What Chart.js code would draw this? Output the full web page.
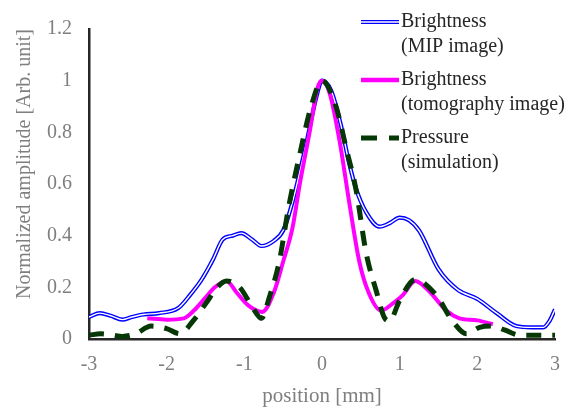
<!DOCTYPE html>
<html lang="en">
<head>
<meta charset="UTF-8">
<title>Brightness and pressure profile</title>
<script src="https://cdn.jsdelivr.net/npm/chart.js"></script>
<style>
  html, body { margin:0; padding:0; background:#fff; }
  #wrap { position:relative; width:574px; height:409px; }
</style>
</head>
<body>
<div id="wrap"><canvas id="profileChart"></canvas></div>
<script>
// Brightness (MIP image)
const mipX = [-3.0, -2.86, -2.72, -2.57, -2.45, -2.3, -2.1, -1.85, -1.7, -1.55, -1.4, -1.28, -1.15, -1.04, -0.9, -0.78, -0.62, -0.5, -0.38, -0.2, -0.07, 0, 0.12, 0.25, 0.35, 0.44, 0.57, 0.74, 0.88, 1.0, 1.12, 1.25, 1.5, 1.75, 2.0, 2.25, 2.5, 2.7, 2.85, 2.93, 3.0];
const mipY = [0.085, 0.10, 0.09, 0.075, 0.085, 0.095, 0.10, 0.12, 0.17, 0.23, 0.31, 0.385, 0.40, 0.41, 0.385, 0.36, 0.38, 0.42, 0.53, 0.76, 0.94, 1.0, 0.96, 0.82, 0.68, 0.58, 0.49, 0.435, 0.45, 0.47, 0.46, 0.42, 0.27, 0.19, 0.155, 0.10, 0.05, 0.045, 0.045, 0.07, 0.115];

// Brightness (tomography image)
const tomoX = [-2.25, -2.0, -1.78, -1.65, -1.5, -1.38, -1.23, -1.1, -0.95, -0.77, -0.62, -0.5, -0.38, -0.28, -0.16, -0.06, 0, 0.1, 0.23, 0.35, 0.48, 0.6, 0.76, 0.9, 1.04, 1.2, 1.38, 1.6, 1.77, 2.0, 2.2];
const tomoY = [0.08, 0.075, 0.08, 0.11, 0.16, 0.20, 0.225, 0.18, 0.13, 0.105, 0.18, 0.30, 0.43, 0.61, 0.80, 0.97, 1.0, 0.95, 0.76, 0.53, 0.30, 0.18, 0.11, 0.135, 0.17, 0.225, 0.185, 0.11, 0.08, 0.072, 0.057];

// Pressure (simulation)
const simX = [-3.0, -2.85, -2.7, -2.57, -2.4, -2.2, -2.0, -1.83, -1.66, -1.49, -1.35, -1.23, -1.06, -0.89, -0.78, -0.68, -0.55, -0.43, -0.29, -0.14, 0, 0.18, 0.31, 0.44, 0.57, 0.7, 0.8, 0.87, 1.0, 1.2, 1.47, 1.68, 1.86, 2.03, 2.2, 2.35, 2.54, 2.75, 3.0];
const simY = [0.015, 0.02, 0.015, 0.01, 0.02, 0.05, 0.04, 0.02, 0.07, 0.14, 0.20, 0.225, 0.20, 0.12, 0.08, 0.16, 0.30, 0.51, 0.71, 0.90, 1.0, 0.90, 0.74, 0.575, 0.33, 0.185, 0.085, 0.07, 0.15, 0.23, 0.17, 0.07, 0.02, 0.045, 0.05, 0.035, 0.015, 0.015, 0.015];

const xTickLabels = ['-3', '-2', '-1', '0', '1', '2', '3'];
const yTickLabels = ['0', '0.2', '0.4', '0.6', '0.8', '1', '1.2'];

const legendItems = [
  { lines: ['Brightness', '(MIP image)'], kind: 'double' },
  { lines: ['Brightness', '(tomography image)'], kind: 'magenta' },
  { lines: ['Pressure', '(simulation)'], kind: 'dashed' }
];

const SERIF = '"Liberation Serif", "Times New Roman", serif';
const BLUE = '#0000ff';
const MAGENTA = '#ff00ff';
const GREEN = '#063806';

function toPoints(xs, ys) {
  return xs.map((x, i) => ({ x: x, y: ys[i] }));
}

const legendPlugin = {
  id: 'sideLegend',
  afterDraw(chart) {
    const ctx = chart.ctx;
    ctx.save();
    ctx.font = '20px ' + SERIF;
    ctx.fillStyle = '#262626';
    ctx.textBaseline = 'middle';
    legendItems.forEach((item, i) => {
      const y = 22 + i * 58;
      ctx.beginPath();
      ctx.moveTo(361, y);
      ctx.lineTo(399, y);
      if (item.kind === 'double') {
        ctx.strokeStyle = BLUE; ctx.lineWidth = 4; ctx.stroke();
        ctx.strokeStyle = '#fff'; ctx.lineWidth = 1.5; ctx.stroke();
      } else if (item.kind === 'magenta') {
        ctx.strokeStyle = MAGENTA; ctx.lineWidth = 4.5; ctx.stroke();
      } else {
        ctx.setLineDash([16, 12]);
        ctx.strokeStyle = GREEN; ctx.lineWidth = 5; ctx.stroke();
        ctx.setLineDash([]);
      }
      item.lines.forEach((t, j) => ctx.fillText(t, 401, y + j * 24.5));
    });
    ctx.restore();
  }
};

new Chart(document.getElementById('profileChart'), {
  type: 'line',
  data: {
    datasets: [
      { data: toPoints(simX, simY), borderColor: GREEN, borderWidth: 5, borderDash: [15, 11] },
      { data: toPoints(tomoX, tomoY), borderColor: MAGENTA, borderWidth: 4 },
      { data: toPoints(mipX, mipY), borderColor: '#ffffff', borderWidth: 1.4 },
      { data: toPoints(mipX, mipY), borderColor: BLUE, borderWidth: 4.2 }
    ]
  },
  options: {
    responsive: true,
    maintainAspectRatio: false,
    animation: false,
    layout: { padding: { top: 21, right: 18, left: 0, bottom: 0 } },
    elements: {
      point: { radius: 0 },
      line: { cubicInterpolationMode: 'monotone', fill: false, borderCapStyle: 'butt' }
    },
    plugins: { legend: { display: false }, tooltip: { enabled: false } },
    scales: {
      x: {
        type: 'linear',
        min: -3, max: 3,
        afterFit(scale) { scale.height = 70; },
        grid: { display: false, drawTicks: false },
        border: { display: true, color: '#262626', width: 2.5 },
        ticks: {
          stepSize: 1, padding: 14, color: '#7f7f7f',
          font: { family: SERIF, size: 20 },
          callback: (v) => xTickLabels[Math.round(v) + 3]
        },
        title: {
          display: true, text: 'position [mm]', color: '#7f7f7f',
          font: { family: SERIF, size: 21 }, padding: { top: 0, bottom: 0 }
        }
      },
      y: {
        min: 0, max: 1.2,
        afterFit(scale) { scale.width = 89; },
        grid: { display: false, drawTicks: false },
        border: { display: true, color: '#262626', width: 2.5 },
        ticks: {
          stepSize: 0.2, padding: 17, color: '#7f7f7f',
          font: { family: SERIF, size: 20 },
          callback: (v) => yTickLabels[Math.round(v * 5)]
        },
        title: {
          display: true, text: 'Normalized amplitude [Arb. unit]', color: '#7f7f7f',
          align: 'end',
          font: { family: SERIF, size: 20 }, padding: { top: 13, bottom: 0 }
        }
      }
    }
  },
  plugins: [legendPlugin]
});
</script>
</body>
</html>
